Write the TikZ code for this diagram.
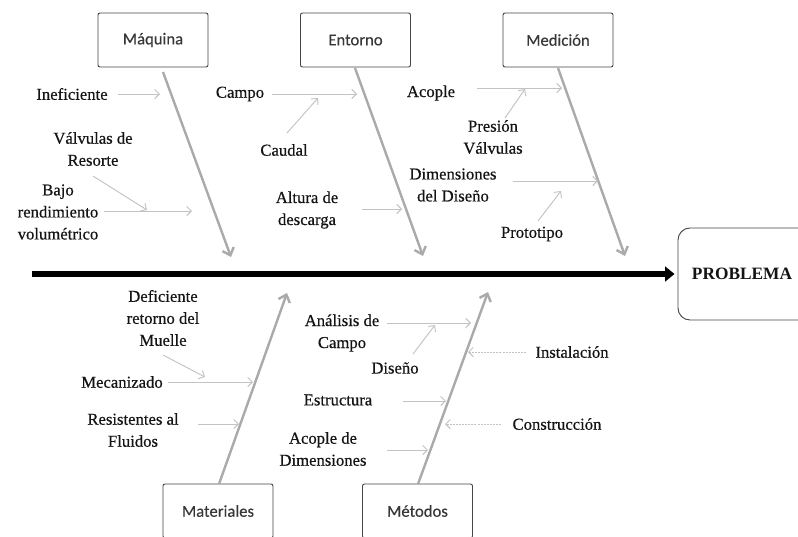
\documentclass[tikz,border=0pt]{standalone}
\usepackage{fontspec}
\setmainfont{Liberation Serif}
\newfontfamily\lblfont[FakeBold=0.5]{Liberation Serif}
\newfontfamily\boxfont[FakeBold=0.3]{Carlito}
\usetikzlibrary{arrows.meta}
\definecolor{bonegray}{RGB}{170,170,170}
\definecolor{subgray}{RGB}{195,195,195}
\definecolor{boxedge}{RGB}{70,70,70}
\definecolor{txt}{RGB}{20,20,20}
\begin{document}
\begin{tikzpicture}[x=0.75pt,y=-0.75pt,
  catbox/.style={draw=boxedge, line width=0.7pt, rounded corners=1.5pt, minimum width=82.5pt, minimum height=40.5pt, inner sep=0pt, font=\boxfont\fontsize{12.5}{15}\selectfont, text=txt!85},
  lbl/.style={font=\lblfont\fontsize{12.5}{16.5}\selectfont, align=center, text=txt, inner sep=0pt},
  bone/.style={draw=bonegray, line width=1.8pt, -{Straight Barb[length=5pt,width=9pt]}},
  sub/.style={draw=subgray, line width=0.7pt, -{Straight Barb[length=3.5pt,width=7pt]}},
  subdash/.style={draw=subgray, line width=0.7pt, dash pattern=on 1.5pt off 0.8pt, -{Straight Barb[length=3.5pt,width=7pt]}}
]
\fill[white] (0,0) rectangle (798,536);
\useasboundingbox (0,0) rectangle (798,536);

% category boxes
\node[catbox] (maquina) at (153,40) {Máquina};
\node[catbox] (entorno) at (355.5,40) {Entorno};
\node[catbox] (medicion) at (558,40) {Medición};
\node[catbox] (materiales) at (218,511) {Materiales};
\node[catbox] (metodos) at (417.5,511) {Métodos};
\node[draw=boxedge, line width=0.7pt, rounded corners=9pt, minimum width=106.5pt, minimum height=69pt, inner sep=0pt,
      font=\bfseries\fontsize{13}{15}\selectfont, text=txt] (problema) at (749,274) {PROBLEMA\hspace*{10.5pt}};

% spine
\coordinate (spineStart) at (32,274);
\draw[black, line width=4.5pt, -{Triangle[length=7pt,width=11pt]}, shorten >=2.3pt] (spineStart) -- (problema.west);

% bones
\coordinate (b1s) at (163,72);  \coordinate (b1e) at (231,257);
\coordinate (b2s) at (355,68);  \coordinate (b2e) at (423,256);
\coordinate (b3s) at (558,68);  \coordinate (b3e) at (625,256);
\coordinate (b4s) at (219,484); \coordinate (b4e) at (287,293);
\coordinate (b5s) at (418,484); \coordinate (b5e) at (488,292);
\draw[bone] (b1s) -- (b1e);
\draw[bone] (b2s) -- (b2e);
\draw[bone] (b3s) -- (b3e);
\draw[bone] (b4s) -- (b4e);
\draw[bone] (b5s) -- (b5e);

% labels
\node[lbl] (ineficiente) at (72,94) {Ineficiente};
\node[lbl] (valvulas) at (93,149) {Válvulas de\\Resorte};
\node[lbl] (bajo) at (58,212) {Bajo\\rendimiento\\volumétrico};
\node[lbl] (campo) at (240,94) {Campo};
\node[lbl] (caudal) at (284,150) {Caudal};
\node[lbl] (altura) at (307,210) {Altura de\\descarga};
\node[lbl] (acople) at (431,93) {Acople};
\node[lbl] (presion) at (493,137) {Presión\\Válvulas};
\node[lbl] (dimensiones) at (453,185) {Dimensiones\\del Diseño};
\node[lbl] (prototipo) at (532,234) {Prototipo};
\node[lbl] (deficiente) at (163,318) {Deficiente\\retorno del\\Muelle};
\node[lbl] (mecanizado) at (122,382) {Mecanizado};
\node[lbl] (resistentes) at (133,430) {Resistentes al\\Fluidos};
\node[lbl] (analisis) at (342,333) {Análisis de\\Campo};
\node[lbl] (diseno) at (395,368) {Diseño};
\node[lbl] (estructura) at (338,400) {Estructura};
\node[lbl] (acopledim) at (323,449) {Acople de\\Dimensiones};
\node[lbl] (instalacion) at (572,352) {Instalación};
\node[lbl] (construccion) at (557,424) {Construcción};

% sub arrows
\coordinate (s1s) at (118,94);  \coordinate (s1e) at (160,94);
\coordinate (s2s) at (93,176);  \coordinate (s2e) at (147,210);
\coordinate (s3s) at (104,211); \coordinate (s3e) at (192,211);
\coordinate (s4s) at (272,94);  \coordinate (s4e) at (357,94);
\coordinate (s5s) at (287,133); \coordinate (s5e) at (318,98);
\coordinate (s6s) at (362,209); \coordinate (s6e) at (402,209);
\coordinate (s7s) at (477,88);  \coordinate (s7e) at (562,88);
\coordinate (s8s) at (505,118); \coordinate (s8e) at (525,89);
\coordinate (s9s) at (513,181); \coordinate (s9e) at (598,181);
\coordinate (s10s) at (538,221); \coordinate (s10e) at (561,191);
\coordinate (s11s) at (163,355); \coordinate (s11e) at (205,377);
\coordinate (s12s) at (168,382); \coordinate (s12e) at (253,382);
\coordinate (s13s) at (198,424); \coordinate (s13e) at (239,424);
\coordinate (s14s) at (387,323); \coordinate (s14e) at (471,323);
\coordinate (s15s) at (413,354); \coordinate (s15e) at (435,325);
\coordinate (s16s) at (403,401); \coordinate (s16e) at (446,401);
\coordinate (s17s) at (387,450); \coordinate (s17e) at (428,450);
\coordinate (s18s) at (526,352); \coordinate (s18e) at (468,352);
\coordinate (s19s) at (501,424); \coordinate (s19e) at (445,424);
\foreach \i in {1,...,17} {\draw[sub] (s\i s) -- (s\i e);}
\draw[subdash] (s18s) -- (s18e);
\draw[subdash] (s19s) -- (s19e);
\end{tikzpicture}
\end{document}
